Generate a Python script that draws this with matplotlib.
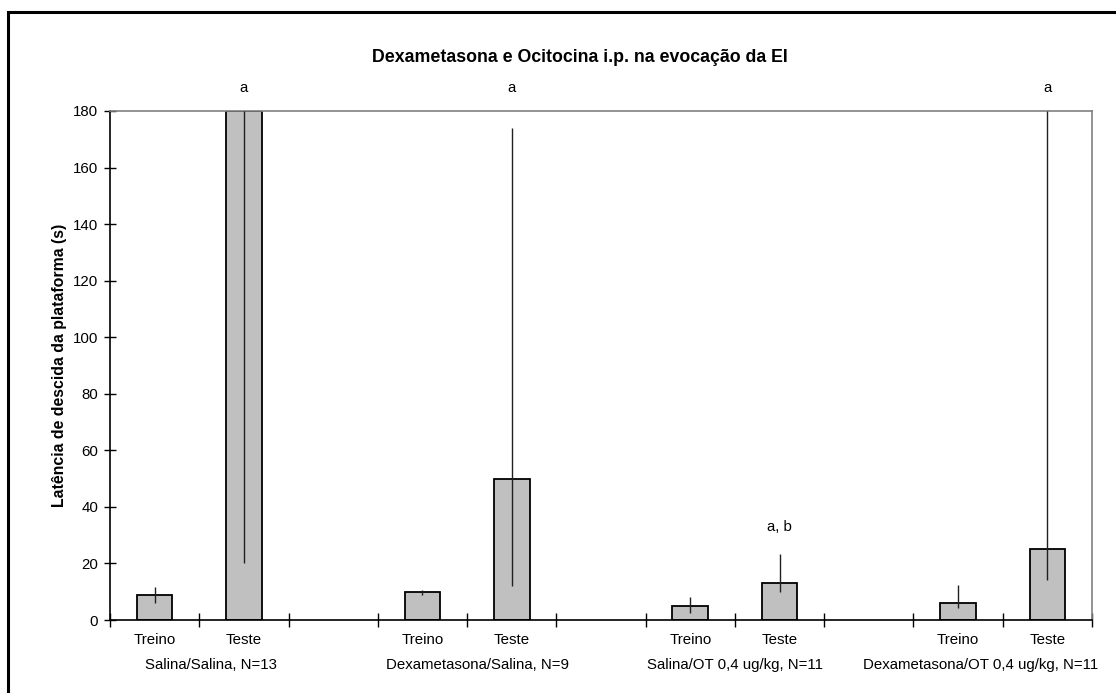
import matplotlib
matplotlib.use("Agg")
import matplotlib.pyplot as plt
from matplotlib.patches import Rectangle
import numpy as np

plt.rcParams['font.family'] = ['Liberation Sans', 'DejaVu Sans']

groups = ["Salina/Salina, N=13", "Dexametasona/Salina, N=9",
          "Salina/OT 0,4 ug/kg, N=11", "Dexametasona/OT 0,4 ug/kg, N=11"]
phases = ["Treino", "Teste"]
# median latency and interquartile limits per group: (Treino, Teste)
medians = [[9, 180], [10, 50], [5, 13], [6, 25]]
lower_q = [[6, 20], [9, 12], [2.4, 10], [4.2, 14]]
upper_q = [[11.7, 180], [10.6, 174], [8.2, 23.3], [12.4, 180]]
# significance letters above the Teste bars
letters = ["a", "a", "a, b", "a"]
letter_y = [188, 188, 33, 188]

title = "Dexametasona e Ocitocina i.p. na evocação da EI"
ylabel = "Latência de descida da plataforma (s)"
yticks = [0, 20, 40, 60, 80, 100, 120, 140, 160, 180]

FS = 10.8

fig = plt.figure(figsize=(11.16, 6.93), dpi=100)
ax = fig.add_axes([110 / 1116, 73 / 693, 982 / 1116, 509 / 693])

n_slots = 11
slot_pos = []
for g in range(len(groups)):
    for p in range(2):
        slot_pos.append(g * 3 + p)

vals = [v for pair in medians for v in pair]
lo = [v for pair in lower_q for v in pair]
hi = [v for pair in upper_q for v in pair]

ax.bar(slot_pos, vals, width=0.4, color="#c0c0c0", edgecolor="black",
       linewidth=1.3, zorder=2)
for x, l, h in zip(slot_pos, lo, hi):
    ax.plot([x, x], [l, h], color="#202020", linewidth=1.0, zorder=3,
            solid_capstyle="butt")

for g in range(len(groups)):
    ax.text(g * 3 + 1, letter_y[g], letters[g], ha="center", va="center",
            fontsize=FS, clip_on=False)

ax.set_xlim(-0.5, n_slots - 0.5)
ax.set_ylim(0, 180)
ax.set_yticks(yticks)
ax.set_yticklabels([str(t) for t in yticks], fontsize=FS)
ax.tick_params(axis="y", direction="inout", length=9, width=1, pad=4)

# category boundary ticks on the x axis
ax.set_xticks(np.arange(-0.5, n_slots, 1.0))
ax.set_xticklabels([])
ax.tick_params(axis="x", direction="inout", length=10, width=1)

# group captions sit slightly off-centre so the last one stays inside the frame
group_shift = [0.13, 0.12, 0.0, -0.25]
for g in range(len(groups)):
    for p in range(2):
        ax.text(g * 3 + p, -7.1, phases[p], ha="center", va="center",
                fontsize=FS, clip_on=False)
    ax.text(g * 3 + 0.5 + group_shift[g], -15.9, groups[g], ha="center",
            va="center", fontsize=FS, clip_on=False)

for side in ["top", "right"]:
    ax.spines[side].set_color("#808080")
    ax.spines[side].set_linewidth(1.2)
for side in ["left", "bottom"]:
    ax.spines[side].set_color("black")
    ax.spines[side].set_linewidth(1.2)

ax.set_ylabel(ylabel, fontsize=11.4, fontweight="bold", labelpad=4.5)
fig.text(580 / 1116, 1 - 57 / 693, title, ha="center",
         va="center", fontsize=12.8, fontweight="bold")

# outer chart frame
fig.patches.append(Rectangle((8 / 1116, -0.1), 1.2, 1 - 12 / 693 + 0.1,
                             transform=fig.transFigure, fill=False,
                             edgecolor="black", linewidth=2.2))

fig.savefig("out.png", dpi=100)
